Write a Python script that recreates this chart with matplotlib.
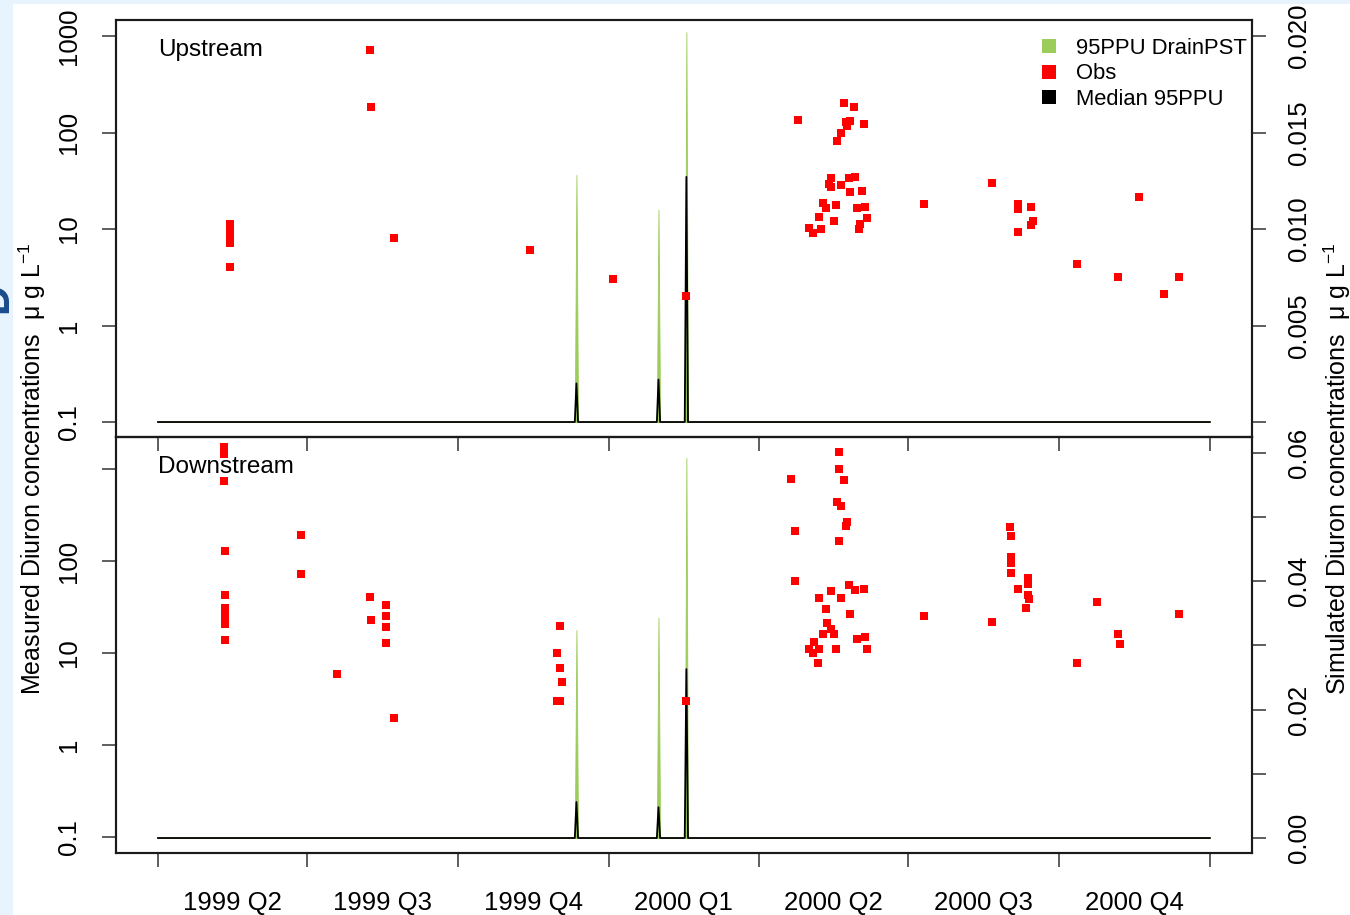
import numpy as np
import matplotlib
matplotlib.use("Agg")
import matplotlib.pyplot as plt
import matplotlib.dates as mdates
from matplotlib.lines import Line2D
from matplotlib.patches import Rectangle
from matplotlib.ticker import NullLocator

plt.rcParams['font.family'] = ['Liberation Sans', 'DejaVu Sans']
plt.rcParams['mathtext.fontset'] = 'custom'
plt.rcParams['mathtext.rm'] = 'Liberation Sans'
plt.rcParams['mathtext.it'] = 'Liberation Sans:italic'

# --- data -------------------------------------------------------------
quarter_starts = ['1999-04-01', '1999-07-01', '1999-10-01', '2000-01-01',
                  '2000-04-01', '2000-07-01', '2000-10-01', '2001-01-01']
quarter_labels = ['1999 Q2', '1999 Q3', '1999 Q4', '2000 Q1',
                  '2000 Q2', '2000 Q3', '2000 Q4']

# simulated daily series (right axis), only the days where it changes
sim_dates = ['1999-04-01', '1999-12-11', '1999-12-12', '1999-12-13',
             '2000-01-30', '2000-01-31', '2000-02-01',
             '2000-02-16', '2000-02-17', '2000-02-18', '2001-01-01']
up_ppu_hi = [0, 0, 0.0128, 0, 0, 0.0110, 0, 0, 0.0202, 0, 0]
up_median = [0, 0, 0.0020, 0, 0, 0.0022, 0, 0, 0.0127, 0, 0]
dn_ppu_hi = [0, 0, 0.0324, 0, 0, 0.0343, 0, 0, 0.0592, 0, 0]
dn_median = [0, 0, 0.0056, 0, 0, 0.0048, 0, 0, 0.0263, 0, 0]

# measured concentrations, ug/L
up_obs_dates = ['1999-05-15', '1999-05-15', '1999-05-15', '1999-05-15', '1999-05-15',
                '1999-08-08', '1999-08-09', '1999-08-23', '1999-11-14', '2000-01-03', '2000-02-17',
                '2000-04-25', '2000-05-23', '2000-05-29', '2000-05-24', '2000-05-27',
                '2000-05-25', '2000-06-04', '2000-05-21', '2000-05-19',
                '2000-05-15', '2000-05-14', '2000-05-15', '2000-05-21', '2000-05-26',
                '2000-05-30', '2000-05-27', '2000-06-03',
                '2000-05-10', '2000-05-12', '2000-05-18', '2000-05-31', '2000-06-05',
                '2000-05-08', '2000-05-17', '2000-06-06',
                '2000-05-02', '2000-05-04', '2000-05-09', '2000-06-01', '2000-06-02',
                '2000-07-11', '2000-08-21', '2000-09-06', '2000-09-06', '2000-09-14',
                '2000-09-15', '2000-09-14', '2000-09-06',
                '2000-10-12', '2000-11-06', '2000-11-19', '2000-12-13', '2000-12-04']
up_obs_vals = [11.2, 9.8, 8.0, 7.1, 4.0,
               716, 185, 8.0, 6.0, 3.05, 2.0,
               135, 201, 182, 129, 133, 117, 122, 100, 82,
               33.8, 29.1, 27.0, 28.8, 33.5, 34.8, 24.0, 24.9,
               18.7, 16.6, 17.9, 16.4, 17.0, 13.2, 12.1, 13.1,
               10.3, 9.0, 10.1, 10.0, 11.3,
               18.0, 30.2, 18.2, 16.0, 17.0, 12.2, 11.0, 9.2,
               4.3, 3.2, 21.3, 3.2, 2.1]

dn_obs_dates = ['1999-05-11', '1999-05-11', '1999-05-11',
                '1999-05-12', '1999-05-12', '1999-05-12', '1999-05-12', '1999-05-12',
                '1999-05-12', '1999-05-12',
                '1999-06-27', '1999-06-27', '1999-07-19',
                '1999-08-08', '1999-08-09', '1999-08-18', '1999-08-18', '1999-08-18',
                '1999-08-18', '1999-08-23',
                '1999-12-02', '1999-11-30', '1999-12-02', '1999-12-03', '1999-11-30',
                '1999-12-02', '2000-02-17',
                '2000-05-20', '2000-05-20', '2000-05-23', '2000-04-21', '2000-05-19',
                '2000-05-21', '2000-05-25', '2000-05-24', '2000-04-23', '2000-05-20',
                '2000-04-23', '2000-05-26', '2000-05-30', '2000-06-04', '2000-05-15',
                '2000-05-08', '2000-05-21', '2000-05-12', '2000-05-27', '2000-05-13',
                '2000-05-15', '2000-05-10', '2000-05-17', '2000-05-31', '2000-06-05',
                '2000-05-05', '2000-05-02', '2000-05-08', '2000-05-18', '2000-06-06',
                '2000-05-04', '2000-05-07',
                '2000-07-11', '2000-09-01', '2000-09-02', '2000-09-02', '2000-09-02',
                '2000-09-02', '2000-09-12', '2000-09-12', '2000-09-06', '2000-09-12',
                '2000-09-13', '2000-09-11', '2000-08-21', '2000-10-24', '2000-12-13',
                '2000-11-06', '2000-11-07', '2000-10-12']
dn_obs_vals = [1734, 1456, 746,
               128, 43, 30.6, 26.5, 24.0, 20.5, 14.0,
               190, 72.8, 5.9,
               40.9, 23.0, 33.3, 25.2, 19.3, 12.9, 1.95,
               19.8, 9.9, 6.9, 4.9, 3.0, 3.0, 3.0,
               1520, 1000, 765, 785, 434, 399, 267, 240, 213, 164,
               60.6, 55.2, 48.8, 50, 47.5, 39.9, 39.9, 29.9, 26.3, 21.0,
               18.1, 16.1, 16.0, 14.1, 14.8, 13.2, 11.0, 11.0, 11.0, 11.0,
               9.9, 7.85,
               25.2, 236, 187, 110, 95.9, 73.5, 64.9, 56.2, 49.2, 42.4,
               38.6, 30.6, 21.7, 35.8, 26.3, 16.0, 12.5, 7.85]

# --- style ------------------------------------------------------------
GREEN = '#9ccc5a'
RED = '#ff0000'
FS = 17.5
TICK_FS = 18.5


def to_num(dates):
    return mdates.date2num(np.array(dates, dtype='datetime64[D]'))


q_num = to_num(quarter_starts)
q_mid = (q_num[:-1] + q_num[1:]) / 2
sim_x = to_num(sim_dates)
x_lo, x_hi = q_num[0] - 25.6, q_num[0] + 666.7

fig = plt.figure(figsize=(13.5, 9.15), dpi=100)
fig.patch.set_facecolor('#e8f4fd')
fig.add_artist(Rectangle((13 / 1350, 0), 1 - 13 / 1350, 1 - 4 / 915,
                         transform=fig.transFigure, facecolor='white',
                         edgecolor='none', zorder=-10))

left, width = 116 / 1350, (1252 - 116) / 1350
ax_up = fig.add_axes([left, 1 - 437 / 915, width, 417 / 915])
ax_dn = fig.add_axes([left, 1 - 853 / 915, width, 416 / 915])
tw_up = ax_up.twinx()
tw_dn = ax_dn.twinx()

# draw order: lower panel first so the upper x ticks show over it
tw_dn.set_zorder(1)
ax_dn.set_zorder(2)
tw_up.set_zorder(3)
ax_up.set_zorder(4)
for a in (ax_up, ax_dn, tw_up, tw_dn):
    a.patch.set_visible(False)
    for s in a.spines.values():
        s.set_linewidth(1.5)
        s.set_color('#1a1a1a')

panels = [
    (ax_up, tw_up, up_obs_dates, up_obs_vals, up_ppu_hi, up_median,
     (10 ** -1.1554, 10 ** 3.1658), (-0.000777, 0.020829),
     [0, 0.005, 0.010, 0.015, 0.020], ['', '0.005', '0.010', '0.015', '0.020'],
     ['0.1', '1', '10', '100', '1000'], 'Upstream'),
    (ax_dn, tw_dn, dn_obs_dates, dn_obs_vals, dn_ppu_hi, dn_median,
     (10 ** -1.1739, 10 ** 3.3478), (-0.002336, 0.06246),
     [0, 0.01, 0.02, 0.03, 0.04, 0.05, 0.06], ['0.00', '', '0.02', '', '0.04', '', '0.06'],
     ['0.1', '1', '10', '100', ''], 'Downstream'),
]

for ax, tw, od, ov, hi, med, ylim, rlim, rticks, rlabels, llabels, name in panels:
    tw.fill_between(sim_x, 0, hi, color=GREEN, lw=0.6, edgecolor=GREEN)
    tw.plot(sim_x, med, color='black', lw=1.3)
    tw.set_ylim(*rlim)
    tw.set_yticks(rticks)
    tw.set_yticklabels(rlabels)

    ax.plot(to_num(od), ov, ls='none', marker='s', ms=6, color=RED, mec=RED, mew=0)
    ax.set_yscale('log')
    ax.set_ylim(*ylim)
    ax.set_yticks([0.1, 1, 10, 100, 1000])
    ax.set_yticklabels(llabels)
    ax.yaxis.set_minor_locator(NullLocator())
    ax.set_xlim(x_lo, x_hi)

    ax.set_xticks(q_num)
    ax.set_xticks(q_mid, minor=True)
    ax.set_xticklabels([''] * len(q_num))
    ax.set_xticklabels(quarter_labels, minor=True)
    ax.tick_params(axis='x', which='major', direction='out', length=10, width=1.1,
                   color='#333333', labelbottom=False)
    ax.tick_params(axis='x', which='minor', length=0, pad=27.5, labelsize=TICK_FS)

    ax.tick_params(axis='y', direction='out', length=10, width=1.1, color='#333333',
                   labelsize=TICK_FS, labelrotation=90, pad=15.5)
    tw.tick_params(axis='y', direction='out', length=10, width=1.1, color='#333333',
                   labelsize=TICK_FS, labelrotation=90, pad=15.5)
    for lab in ax.get_yticklabels() + tw.get_yticklabels():
        lab.set_va('center')

    ax.text(0.037, 0.929, name, transform=ax.transAxes, fontsize=FS,
            ha='left', va='center')

ax_up.tick_params(axis='x', which='minor', labelbottom=False)

handles = [Line2D([], [], marker='s', ls='none', color=c, ms=10, mew=0)
           for c in (GREEN, RED, 'black')]
ax_up.legend(handles, ['95PPU DrainPST', 'Obs', 'Median 95PPU'], loc='upper right',
             bbox_to_anchor=(1.0044, 0.981), frameon=False, fontsize=15.8,
             handlelength=0.8, handletextpad=0.85, labelspacing=0.2,
             borderaxespad=0.25, borderpad=0.2)

fig.text(32 / 1350, 1 - 469 / 915,
         'Measured Diuron concentrations  \u03bc g L$^{-1}$',
         rotation=90, ha='center', va='center', fontsize=18)
fig.text(1337 / 1350, 1 - 469 / 915,
         'Simulated Diuron concentrations  \u03bc g L$^{-1}$',
         rotation=90, ha='center', va='center', fontsize=18)
fig.text(-0.003, 1 - 298 / 915, 'D', rotation=90, ha='center', va='center',
         fontsize=30, fontweight='bold', color='#1a4b8c')

fig.savefig('out.png', dpi=100, facecolor=fig.get_facecolor())
